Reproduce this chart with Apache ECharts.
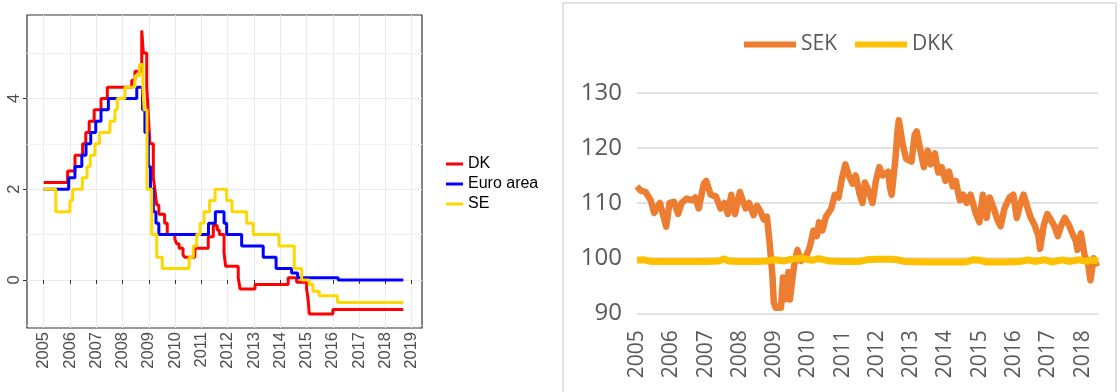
<!DOCTYPE html>
<html><head><meta charset="utf-8">
<script src="https://cdn.jsdelivr.net/npm/echarts@6/dist/echarts.min.js"></script>
<style>html,body{margin:0;padding:0;background:#fff}#c{width:1120px;height:392px}</style>
</head><body><div id="c"></div>
<script>
// ---------- Left panel: policy rates (step series) ----------
const leftYearTicks = [2005,2006,2007,2008,2009,2010,2011,2012,2013,2014,2015,2016,2017,2018,2019];
const leftRateTicks = [0, 2, 4];
const leftMinorTicks = [-1, 1, 3, 5];

const dkDates = [2005.0,2005.91,2006.19,2006.48,2006.6,2006.73,2006.92,2007.18,2007.42,2008.35,2008.47,2008.73,2008.79,2008.92,2008.97,2009.04,2009.17,2009.23,2009.3,2009.38,2009.6,2009.7,2009.99,2010.05,2010.15,2010.3,2010.37,2010.75,2011.26,2011.45,2011.6,2011.68,2011.86,2011.92,2012.4,2012.47,2013.04,2014.3,2014.62,2015.0,2015.04,2015.07,2015.1,2016.0,2018.68];
const dkRates = [2.15,2.4,2.75,3.0,3.25,3.5,3.75,4.0,4.25,4.4,4.6,5.5,5.0,4.25,3.75,3.0,2.25,2.0,1.65,1.45,1.25,1.0,0.9,0.8,0.7,0.55,0.5,0.7,0.95,1.2,1.1,1.0,0.6,0.3,0.05,-0.2,-0.1,0.05,-0.05,-0.2,-0.35,-0.5,-0.75,-0.65,-0.65];

const euDates = [2005.0,2005.95,2006.19,2006.45,2006.61,2006.79,2006.98,2007.18,2007.46,2008.54,2008.76,2008.85,2008.98,2009.06,2009.17,2009.27,2009.38,2011.27,2011.53,2011.86,2011.96,2012.53,2013.35,2013.84,2014.43,2014.66,2016.2,2018.68];
const euRates = [2.0,2.25,2.5,2.75,3.0,3.25,3.5,3.75,4.0,4.25,3.75,3.25,2.5,2.0,1.5,1.25,1.0,1.25,1.5,1.25,1.0,0.75,0.5,0.25,0.15,0.05,0.0,0.0];

const seDates = [2005.0,2005.46,2006.0,2006.1,2006.47,2006.65,2006.77,2006.95,2007.12,2007.52,2007.71,2007.8,2008.09,2008.47,2008.64,2008.77,2008.82,2008.93,2009.11,2009.3,2009.51,2010.53,2010.69,2010.82,2010.95,2011.1,2011.31,2011.52,2011.96,2012.16,2012.72,2012.97,2013.95,2014.53,2014.81,2015.1,2015.24,2015.48,2016.17,2018.68];
const seRates = [2.0,1.5,1.75,2.0,2.25,2.5,2.75,3.0,3.25,3.5,3.75,4.0,4.25,4.5,4.75,4.25,3.75,2.0,1.0,0.5,0.25,0.5,0.75,1.0,1.25,1.5,1.75,2.0,1.75,1.5,1.25,1.0,0.75,0.25,0.0,-0.1,-0.25,-0.35,-0.5,-0.5];

// ---------- Right panel: exchange rate indices ----------
const rightYearLabels = [2005,2006,2007,2008,2009,2010,2011,2012,2013,2014,2015,2016,2017,2018];
const sekDates = [2005.0,2005.1,2005.25,2005.4,2005.5,2005.67,2005.85,2005.95,2006.08,2006.2,2006.3,2006.45,2006.6,2006.7,2006.8,2006.95,2007.02,2007.15,2007.3,2007.44,2007.55,2007.65,2007.75,2007.86,2008.0,2008.17,2008.27,2008.4,2008.5,2008.6,2008.7,2008.79,2008.85,2008.9,2008.95,2008.99,2009.05,2009.2,2009.26,2009.31,2009.42,2009.46,2009.58,2009.68,2009.78,2009.94,2010.04,2010.15,2010.25,2010.31,2010.41,2010.51,2010.67,2010.77,2010.88,2010.98,2011.08,2011.18,2011.29,2011.38,2011.5,2011.58,2011.65,2011.77,2011.87,2011.97,2012.07,2012.17,2012.33,2012.38,2012.43,2012.54,2012.6,2012.64,2012.75,2012.85,2013.01,2013.1,2013.16,2013.27,2013.37,2013.48,2013.57,2013.69,2013.79,2013.89,2014.0,2014.1,2014.21,2014.3,2014.42,2014.52,2014.62,2014.73,2014.89,2014.99,2015.09,2015.2,2015.29,2015.41,2015.51,2015.61,2015.72,2015.87,2015.98,2016.08,2016.19,2016.28,2016.4,2016.49,2016.6,2016.71,2016.76,2016.87,2016.97,2017.07,2017.18,2017.28,2017.38,2017.48,2017.6,2017.7,2017.8,2017.85,2017.95,2018.06,2018.16,2018.23,2018.32,2018.42];
const sekValues = [113.0,112.3,112.0,110.5,108.2,110.0,105.7,110.0,110.2,108.0,110.0,110.8,110.5,111.0,109.0,113.5,114.0,111.5,111.2,109.0,110.0,108.0,111.5,108.0,112.0,109.0,110.0,107.8,109.5,108.5,107.0,107.5,104.0,100.5,97.0,92.0,91.0,91.0,96.5,92.5,97.5,92.5,98.5,101.5,99.5,100.5,102.0,105.0,104.0,106.5,105.0,107.5,109.0,111.5,111.0,114.5,117.0,115.0,113.5,115.0,111.5,110.0,113.7,112.0,110.0,114.0,116.5,115.0,115.7,112.8,111.5,118.0,123.0,125.0,120.7,118.0,117.5,122.3,123.0,119.5,116.5,119.5,117.0,119.0,115.5,116.5,114.0,115.7,113.0,114.0,110.5,111.5,110.0,111.5,108.0,106.5,111.5,107.3,111.0,109.0,107.0,105.8,109.0,111.0,111.5,107.3,110.0,111.5,109.0,107.3,106.0,104.0,101.7,106.0,108.0,107.0,105.8,104.0,106.0,107.3,106.0,104.5,103.2,101.5,104.5,100.5,99.0,96.0,100.0,98.5];
const dkkDates = [2005.0,2005.2,2005.4,2005.8,2006.2,2006.6,2007.0,2007.4,2007.55,2007.65,2008.0,2008.5,2008.8,2009.0,2009.3,2009.5,2009.8,2010.1,2010.3,2010.6,2011.0,2011.5,2011.7,2012.0,2012.4,2012.6,2012.8,2013.5,2014.0,2014.6,2014.8,2015.0,2015.2,2015.8,2016.2,2016.4,2016.6,2016.9,2017.1,2017.4,2017.6,2017.9,2018.1,2018.3,2018.45];
const dkkValues = [99.6,99.7,99.4,99.4,99.4,99.4,99.4,99.5,99.9,99.5,99.4,99.4,99.5,99.7,99.5,99.8,100.0,99.6,99.9,99.5,99.4,99.4,99.7,99.8,99.8,99.7,99.4,99.3,99.3,99.3,99.7,99.6,99.3,99.3,99.4,99.7,99.4,99.7,99.3,99.7,99.4,99.7,99.4,99.7,99.4];

const zip = (a, b) => a.map((v, i) => [v, b[i]]);

const LFONT = 'Liberation Sans';
const RFONT = 'Open Sans';
const chart = echarts.init(document.getElementById('c'), null, {renderer: 'canvas'});
chart.setOption({
  animation: false,
  backgroundColor: '#ffffff',
  graphic: [{
    type: 'rect', shape: {x: 563, y: 3, width: 553, height: 400},
    style: {fill: 'none', stroke: '#d9d9d9', lineWidth: 1.5}, silent: true, z: -10
  }],
  grid: [
    {left: 27, top: 15, width: 395, height: 313, show: true, borderColor: '#333333', borderWidth: 1.2, backgroundColor: 'transparent'},
    {left: 637, top: 92.7, width: 461, height: 220.6}
  ],
  legend: [
    {
      data: ['DK', 'Euro area', 'SE'], orient: 'vertical', left: 441, top: 151,
      icon: 'rect', itemWidth: 17, itemHeight: 3, itemGap: 4,
      textStyle: {fontSize: 16, color: '#000', fontFamily: LFONT}
    },
    {
      data: ['SEK', 'DKK'], orient: 'horizontal', left: 739, top: 29,
      icon: 'rect', itemWidth: 52, itemHeight: 6, itemGap: 18,
      textStyle: {fontSize: 21, color: '#595959', fontFamily: RFONT}
    }
  ],
  xAxis: [
    {
      type: 'value', gridIndex: 0, min: 2004.365, max: 2019.39, splitNumber: 15,
      axisLine: {show: false},
      axisTick: {show: true, customValues: leftYearTicks, length: 4, lineStyle: {color: '#333333'}},
      axisLabel: {customValues: leftYearTicks, rotate: 90, fontSize: 16.5, color: '#4d4d4d', fontFamily: LFONT, margin: 4, formatter: v => String(v)},
      splitLine: {show: true, lineStyle: {color: '#ebebeb', width: 1}}
    },
    {
      type: 'value', gridIndex: 1, min: 2005, max: 2018.45,
      axisLine: {show: false}, axisTick: {show: false},
      axisLabel: {customValues: rightYearLabels, rotate: 90, fontSize: 21, color: '#595959', fontFamily: RFONT, margin: 17, formatter: v => String(v)},
      splitLine: {show: false}
    }
  ],
  yAxis: [
    {
      type: 'value', gridIndex: 0, min: -1.06, max: 5.84,
      axisLine: {show: false},
      axisTick: {show: true, customValues: leftRateTicks, length: 4, lineStyle: {color: '#333333'}},
      axisLabel: {customValues: leftRateTicks, rotate: 90, fontSize: 16.5, color: '#4d4d4d', fontFamily: LFONT, margin: 4},
      splitLine: {show: true, lineStyle: {color: '#ebebeb', width: 1}}
    },
    {
      type: 'value', gridIndex: 0, min: -1.06, max: 5.84, position: 'left',
      axisLine: {show: false},
      axisTick: {show: false, customValues: leftMinorTicks},
      axisLabel: {show: false},
      splitLine: {show: true, lineStyle: {color: '#f2f2f2', width: 1}}
    },
    {
      type: 'value', gridIndex: 1, min: 90, max: 130, interval: 10,
      axisLine: {show: false}, axisTick: {show: false},
      axisLabel: {fontSize: 24, color: '#595959', fontFamily: RFONT, margin: 15},
      splitLine: {show: true, lineStyle: {color: '#d9d9d9', width: 1.5}}
    }
  ],
  series: [
    {name: 'DK', type: 'line', step: 'end', xAxisIndex: 0, yAxisIndex: 0, data: zip(dkDates, dkRates), showSymbol: false, lineStyle: {width: 3, color: '#ff0000'}, itemStyle: {color: '#ff0000'}},
    {name: 'Euro area', type: 'line', step: 'end', xAxisIndex: 0, yAxisIndex: 0, data: zip(euDates, euRates), showSymbol: false, lineStyle: {width: 3, color: '#0000ff'}, itemStyle: {color: '#0000ff'}},
    {name: 'SE', type: 'line', step: 'end', xAxisIndex: 0, yAxisIndex: 0, data: zip(seDates, seRates), showSymbol: false, lineStyle: {width: 3, color: '#ffd700'}, itemStyle: {color: '#ffd700'}},
    {name: 'SEK', type: 'line', xAxisIndex: 1, yAxisIndex: 2, data: zip(sekDates, sekValues), showSymbol: false, lineStyle: {width: 6.5, color: '#ed7d31', join: 'round'}, itemStyle: {color: '#ed7d31'}},
    {name: 'DKK', type: 'line', xAxisIndex: 1, yAxisIndex: 2, data: zip(dkkDates, dkkValues), showSymbol: false, lineStyle: {width: 7, color: '#ffc000'}, itemStyle: {color: '#ffc000'}}
  ]
});
</script>
</body></html>
